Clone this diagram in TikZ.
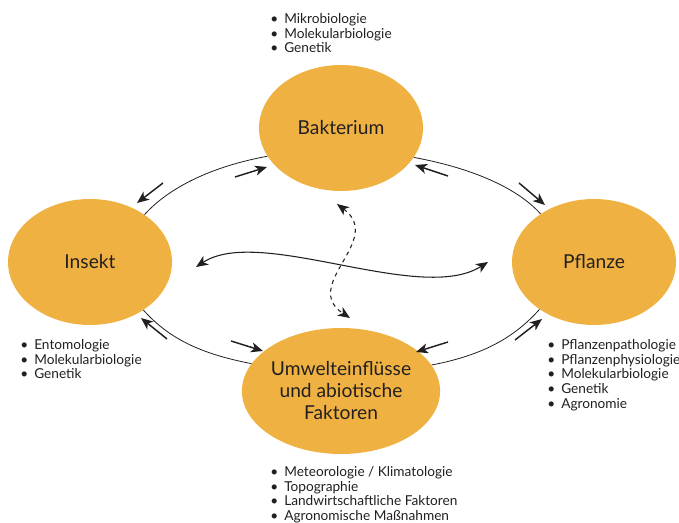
\documentclass[tikz,border=0pt]{standalone}
\usepackage{fontspec}
\setmainfont{Lato}
\usetikzlibrary{arrows.meta,shapes.geometric}
\definecolor{blobfill}{RGB}{239,178,66}
\definecolor{inktext}{RGB}{35,31,32}
\newcommand{\itm}[1]{\makebox[10.5pt][l]{\textbullet}#1}
\tikzset{
  blob/.style={ellipse, fill=blobfill, inner sep=0pt, minimum width=123pt, minimum height=94.5pt, align=center, text=inktext, font=\fontsize{14.4}{16.5}\selectfont},
  ring/.style={line width=0.6pt, draw=inktext},
  hint/.style={line width=1.1pt, draw=inktext, -{Stealth[length=9pt,width=7.5pt,inset=2.5pt]}},
  wave/.style={line width=0.8pt, draw=inktext, {Stealth[length=9pt,width=7.5pt,inset=2.5pt]}-{Stealth[length=9pt,width=7.5pt,inset=2.5pt]}},
  listing/.style={anchor=north west, inner sep=0pt, align=left, text=inktext, font=\fontsize{10.25}{11.1}\selectfont}
}

\begin{document}
\begin{tikzpicture}[x=0.75pt,y=0.75pt,yscale=-1,xscale=1]
\useasboundingbox (0,0) rectangle (679,523);

% Ellipses
\node [blob] (bak) at (341,128) {Bakterium};
\node [blob] (ins) at (90,262) {Insekt};
\node [blob] (pfl) at (594,262) {Pflanze};
\node [blob] (umw) at (341,391) {Umwelteinflüsse\\und abiotische\\Faktoren};

% Ring between the ellipses
\draw [ring] (bak.201.3) .. controls +(-55.2,10.1) and +(24.6,-27.3) .. (ins.41.5);
\draw [ring] (ins.318.5) .. controls +(24.1,26.8) and +(-53.8,-10.3) .. (umw.163.2);
\draw [ring] (umw.16.8) .. controls +(53.8,-10.3) and +(-24.1,26.8) .. (pfl.221.5);
\draw [ring] (pfl.138.5) .. controls +(-24.6,-27.3) and +(55.2,10.1) .. (bak.338.7);

% Direction arrows along the ring
\foreach \xa/\ya/\xb/\yb in {235/177/267/167, 163/183/137/203, 448/176/415/165, 519/183/545/205,
                             167/339/141/318, 231/341/263/351, 448/342/416/352, 515/340/542/319}
  \draw [hint] (\xa,\ya) -- (\xb,\yb);

% Cross links
\coordinate (wl) at (196,267);
\coordinate (wr) at (488,262);
\coordinate (dt) at (337,204);
\coordinate (db) at (350,318);
\draw [wave] (wl) .. controls (260,225) and (420,305) .. (wr);
\draw [wave, dashed] (dt) .. controls (385,240) and (300,285) .. (db);

% Text Node
\node [listing] (bakList) at (270,13) {\itm{Mikrobiologie}\\\itm{Molekularbiologie}\\\itm{Genetik}};
% Text Node
\node [listing] (insList) at (20,339) {\itm{Entomologie}\\\itm{Molekularbiologie}\\\itm{Genetik}};
% Text Node
\node [listing] (pflList) at (547,339) {\itm{Pflanzenpathologie}\\\itm{Pflanzenphysiologie}\\\itm{Molekularbiologie}\\\itm{Genetik}\\\itm{Agronomie}};
% Text Node
\node [listing] (umwList) at (270,466) {\itm{Meteorologie / Klimatologie}\\\itm{Topographie}\\\itm{Landwirtschaftliche Faktoren}\\\itm{Agronomische Maßnahmen}};

\end{tikzpicture}
\end{document}
